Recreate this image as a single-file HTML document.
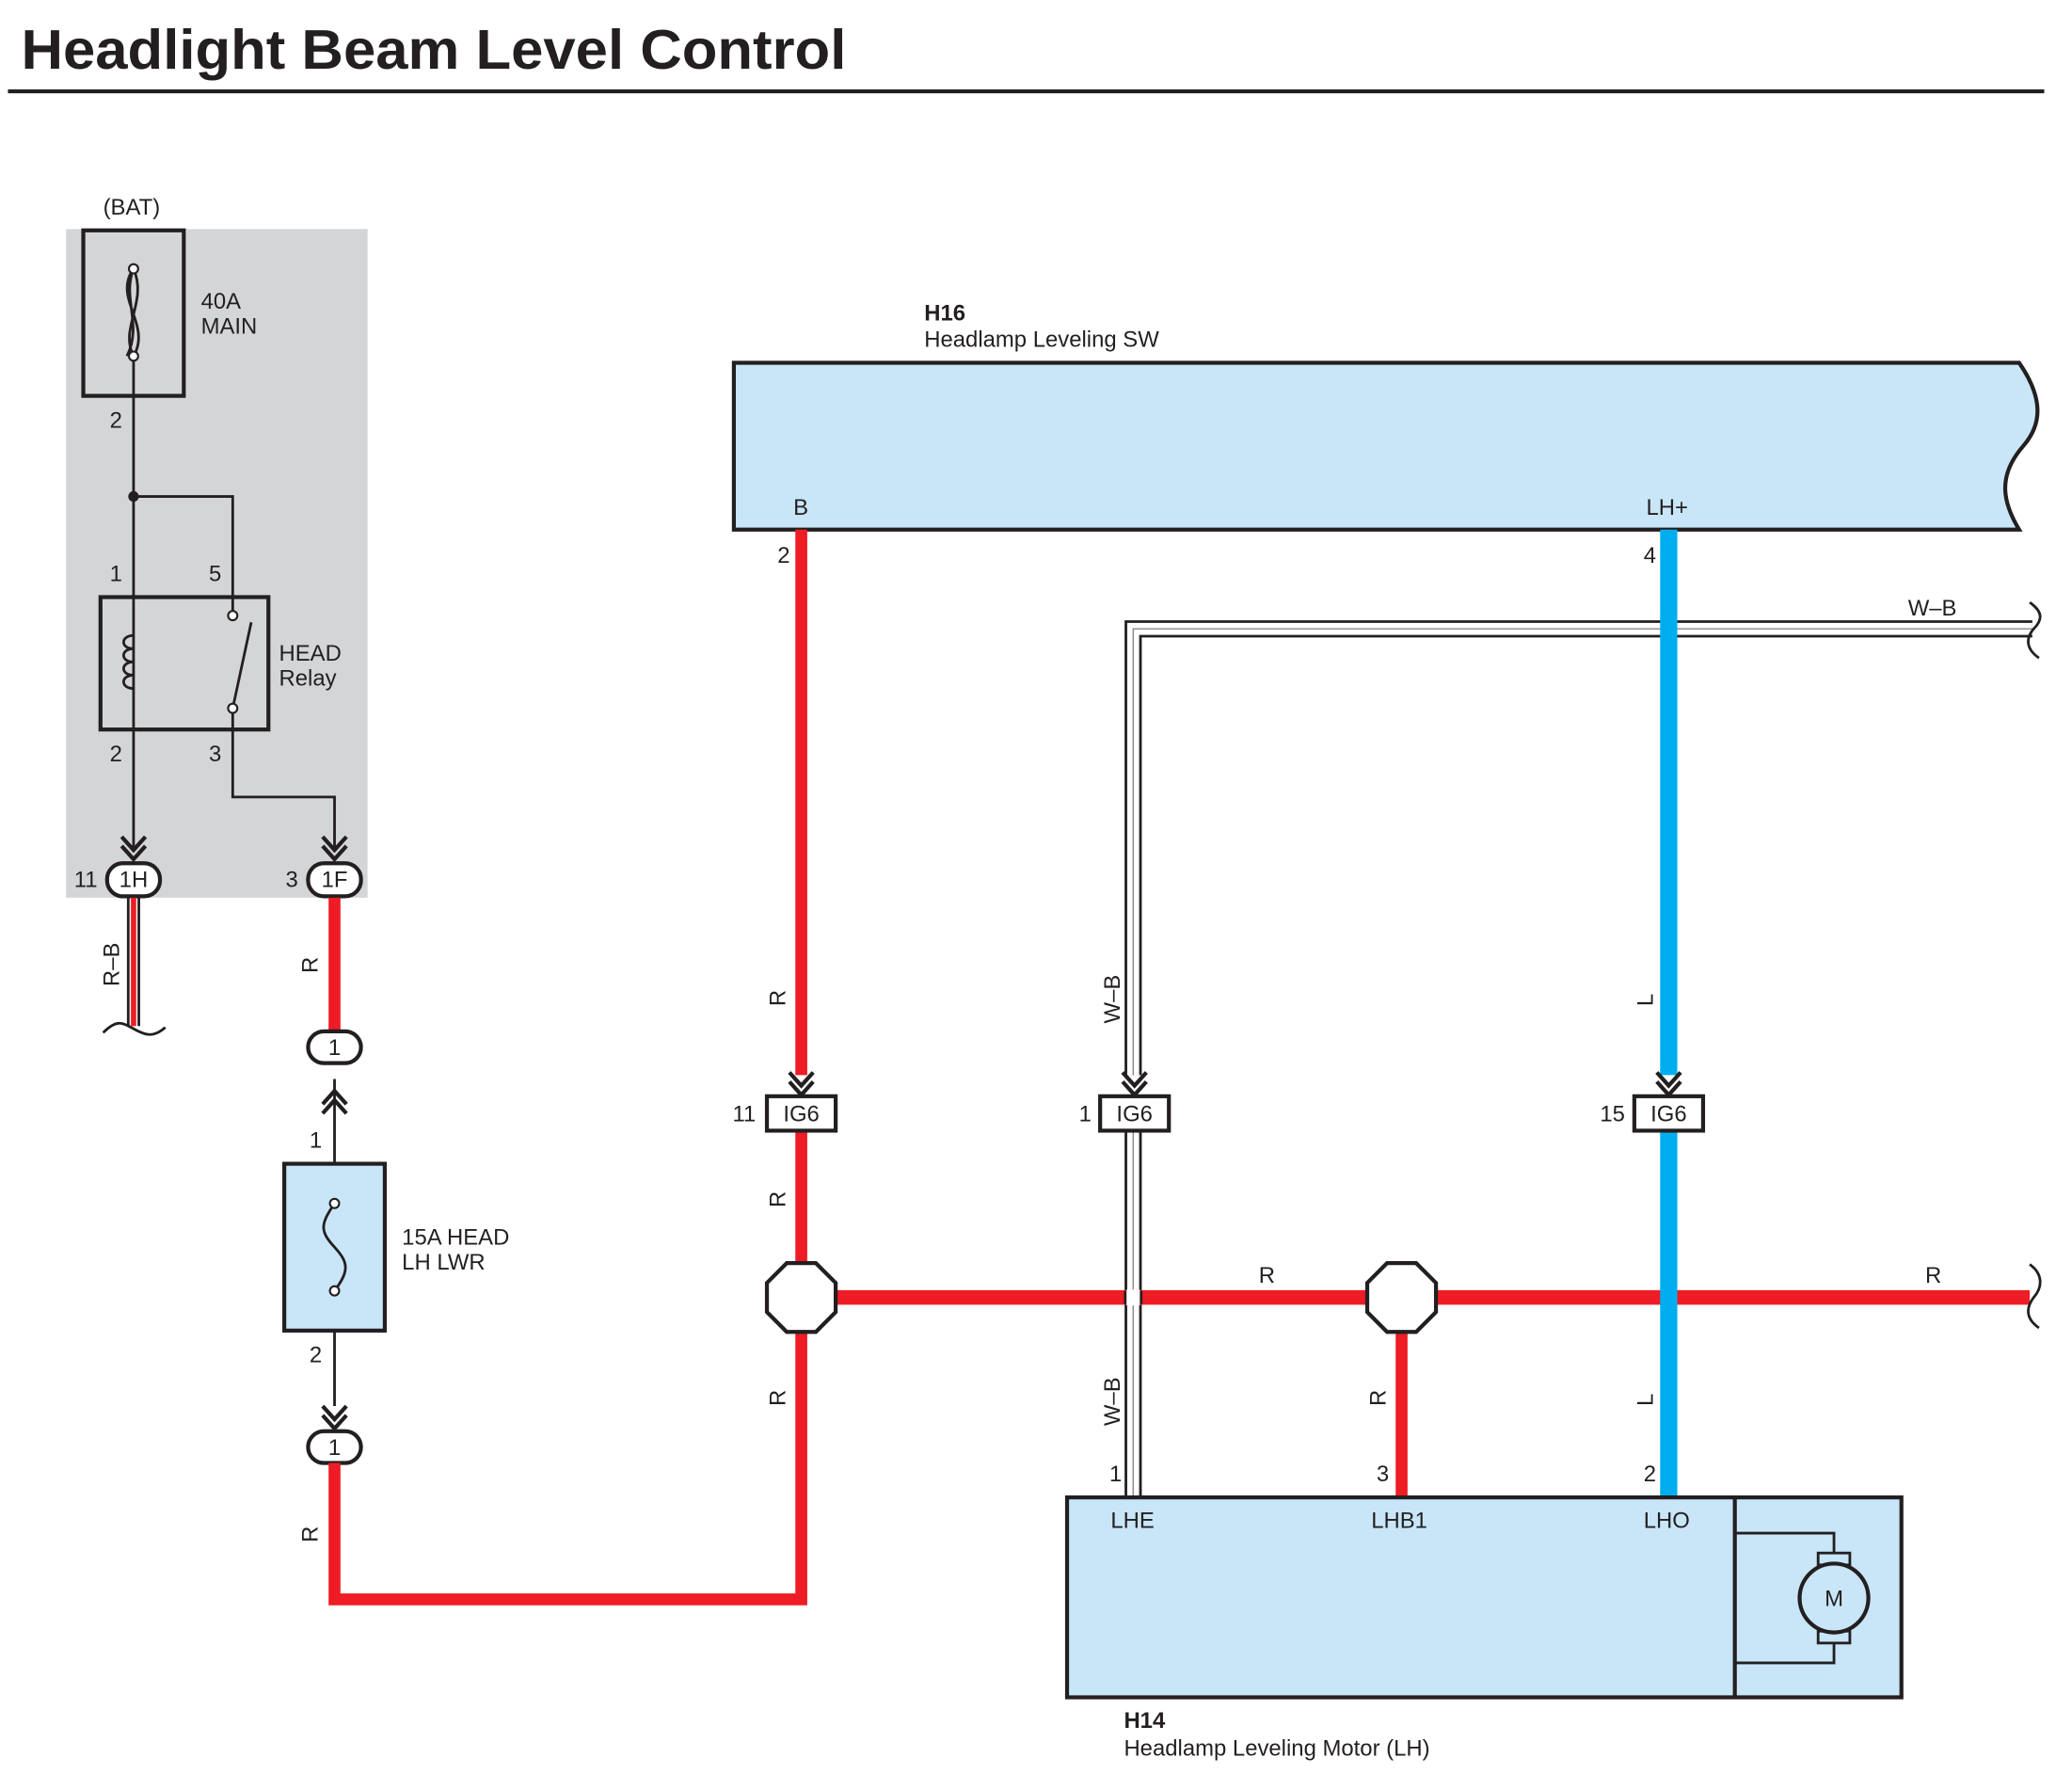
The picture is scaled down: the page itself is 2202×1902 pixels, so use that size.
<!DOCTYPE html>
<html><head><meta charset="utf-8"><style>
html,body{margin:0;padding:0;background:#fff}
svg{display:block}
text{font-family:"Liberation Sans",sans-serif;font-size:17px;fill:#231f20}
</style></head><body>
<svg width="2202" height="1902" viewBox="0 0 1567 1352" preserveAspectRatio="none" xmlns="http://www.w3.org/2000/svg">
<defs>
<g id="chev"><polyline points="-9,-14 0,-4 9,-14" fill="none" stroke="#231f20" stroke-width="3"/><polyline points="-9,-7 0,3 9,-7" fill="none" stroke="#231f20" stroke-width="3"/></g>
</defs>
<text x="16" y="52" style="font-size:42px;font-weight:bold" textLength="624" lengthAdjust="spacingAndGlyphs">Headlight Beam Level Control</text>
<line x1="6" y1="69" x2="1546" y2="69" stroke="#231f20" stroke-width="3"/>

<rect x="50" y="173" width="228" height="505" fill="#d4d5d7"/>
<text x="78" y="162">(BAT)</text>
<rect x="63" y="174" width="76" height="125" fill="none" stroke="#231f20" stroke-width="3"/>
<path d="M101,203 C85,225 115,245 101,269 M101,203 C92,225 108,245 96,269 M101,203 C112,228 90,248 101,269" fill="none" stroke="#231f20" stroke-width="2"/>
<circle cx="101" cy="203" r="3.5" fill="#fff" stroke="#231f20" stroke-width="1.5"/>
<circle cx="101" cy="269" r="3.5" fill="#fff" stroke="#231f20" stroke-width="1.5"/>
<text x="152" y="233">40A</text><text x="152" y="252">MAIN</text>
<text x="83" y="323">2</text>
<line x1="101" y1="272" x2="101" y2="640" stroke="#231f20" stroke-width="2"/>
<circle cx="101" cy="375" r="4" fill="#231f20"/>
<polyline points="101,375 176,375 176,462" fill="none" stroke="#231f20" stroke-width="2"/>
<rect x="76" y="451" width="127" height="100" fill="none" stroke="#231f20" stroke-width="3"/>
<path d="M101,480 c-10,0 -10,10 0,10 c-10,0 -10,10 0,10 c-10,0 -10,10 0,10 c-10,0 -10,10 0,10" fill="none" stroke="#231f20" stroke-width="2"/>
<line x1="176" y1="535" x2="190" y2="470" stroke="#231f20" stroke-width="2"/>
<circle cx="176" cy="465" r="3.5" fill="#fff" stroke="#231f20" stroke-width="1.5"/>
<circle cx="176" cy="535" r="3.5" fill="#fff" stroke="#231f20" stroke-width="1.5"/>
<text x="83" y="439">1</text><text x="158" y="439">5</text>
<text x="211" y="499">HEAD</text><text x="211" y="518">Relay</text>
<text x="83" y="575">2</text><text x="158" y="575">3</text>
<polyline points="176,538 176,602 253,602 253,640" fill="none" stroke="#231f20" stroke-width="2"/>
<use href="#chev" x="101" y="646"/><use href="#chev" x="253" y="646"/>
<rect x="81" y="652" width="40" height="25" rx="12" fill="#fff" stroke="#231f20" stroke-width="3"/>
<text x="101" y="670" text-anchor="middle">1H</text>
<rect x="233" y="652" width="40" height="25" rx="12" fill="#fff" stroke="#231f20" stroke-width="3"/>
<text x="253" y="670" text-anchor="middle">1F</text>
<text x="56" y="670">11</text><text x="216" y="670">3</text>

<line x1="97" y1="678" x2="97" y2="775" stroke="#231f20" stroke-width="2"/>
<line x1="101" y1="678" x2="101" y2="775" stroke="#ee1c25" stroke-width="4"/>
<line x1="105" y1="678" x2="105" y2="775" stroke="#231f20" stroke-width="2"/>
<path d="M78,780 C88,770 92,772 101,777 C110,782 116,784 125,776" fill="none" stroke="#231f20" stroke-width="2"/>
<text transform="translate(90,745) rotate(-90)">R–B</text>

<line x1="253" y1="678" x2="253" y2="780" stroke="#ee1c25" stroke-width="9"/>
<text transform="translate(240,735) rotate(-90)">R</text>
<rect x="233" y="779" width="40" height="24" rx="12" fill="#fff" stroke="#231f20" stroke-width="3"/>
<text x="253" y="797" text-anchor="middle">1</text>
<use href="#chev" x="253" y="809" transform="rotate(180 253 818)"/>
<line x1="253" y1="815" x2="253" y2="1062" stroke="#231f20" stroke-width="2"/>
<rect x="215" y="879" width="76" height="126" fill="#c8e6f8" stroke="#231f20" stroke-width="3"/>
<path d="M253,909 C242,925 242,930 253,942 C264,954 264,960 253,975" fill="none" stroke="#231f20" stroke-width="2"/>
<circle cx="253" cy="909" r="3.5" fill="#fff" stroke="#231f20" stroke-width="1.5"/>
<circle cx="253" cy="975" r="3.5" fill="#fff" stroke="#231f20" stroke-width="1.5"/>
<text x="234" y="867">1</text><text x="234" y="1029">2</text>
<text x="304" y="940">15A HEAD</text><text x="304" y="959">LH LWR</text>
<use href="#chev" x="253" y="1076"/>
<rect x="233" y="1081" width="40" height="24" rx="12" fill="#fff" stroke="#231f20" stroke-width="3"/>
<text x="253" y="1099" text-anchor="middle">1</text>
<polyline points="253,1105 253,1208 606,1208 606,1005" fill="none" stroke="#ee1c25" stroke-width="9"/>
<text transform="translate(240,1165) rotate(-90)">R</text>

<text x="699" y="242" style="font-weight:bold">H16</text>
<text x="699" y="262">Headlamp Leveling SW</text>
<path d="M555,274 H1527 C1545,300 1545,320 1530,337 C1510,360 1515,380 1527,400 H555 Z" fill="#c8e6f8" stroke="#231f20" stroke-width="3"/>
<text x="600" y="389">B</text><text x="588" y="425">2</text>
<text x="1245" y="389">LH+</text><text x="1243" y="425">4</text>

<path d="M1537,475 H857 V812" fill="none" stroke="#231f20" stroke-width="13"/>
<path d="M1537,475 H857 V812" fill="none" stroke="#fff" stroke-width="9"/>
<path d="M1537,475 H857 V812" fill="none" stroke="#888" stroke-width="1"/>
<path d="M857,854 V1131" fill="none" stroke="#231f20" stroke-width="13"/>
<path d="M857,854 V1131" fill="none" stroke="#fff" stroke-width="9"/>
<path d="M857,854 V1131" fill="none" stroke="#888" stroke-width="1"/>
<path d="M1535,455 C1545,462 1545,468 1538,475 C1532,482 1532,490 1542,497" fill="none" stroke="#231f20" stroke-width="2"/>
<text x="1443" y="465">W–B</text>
<text transform="translate(847,773) rotate(-90)">W–B</text>
<text transform="translate(847,1077) rotate(-90)">W–B</text>

<line x1="606" y1="400" x2="606" y2="812" stroke="#ee1c25" stroke-width="9"/>
<line x1="606" y1="854" x2="606" y2="960" stroke="#ee1c25" stroke-width="9"/>
<line x1="620" y1="980" x2="1535" y2="980" stroke="#ee1c25" stroke-width="11"/>
<line x1="1060" y1="990" x2="1060" y2="1131" stroke="#ee1c25" stroke-width="9"/>
<text transform="translate(594,760) rotate(-90)">R</text>
<text transform="translate(594,912) rotate(-90)">R</text>
<text transform="translate(594,1062) rotate(-90)">R</text>
<text transform="translate(1048,1062) rotate(-90)">R</text>
<text x="952" y="969">R</text><text x="1456" y="969">R</text>
<path d="M1535,955 C1545,962 1545,972 1538,980 C1532,988 1532,996 1542,1003" fill="none" stroke="#231f20" stroke-width="2"/>

<line x1="1262" y1="400" x2="1262" y2="812" stroke="#00aeef" stroke-width="13"/>
<line x1="1262" y1="854" x2="1262" y2="1131" stroke="#00aeef" stroke-width="13"/>
<text transform="translate(1250,760) rotate(-90)">L</text>
<text transform="translate(1250,1062) rotate(-90)">L</text>

<line x1="851" y1="975" x2="851" y2="985" stroke="#231f20" stroke-width="2"/>
<line x1="863" y1="975" x2="863" y2="985" stroke="#231f20" stroke-width="2"/>
<rect x="852" y="974" width="10" height="12" fill="#fff"/>

<polygon points="595,954 617,954 632,969 632,991 617,1006 595,1006 580,991 580,969" fill="#fff" stroke="#231f20" stroke-width="3"/>
<polygon points="1049,954 1071,954 1086,969 1086,991 1071,1006 1049,1006 1034,991 1034,969" fill="#fff" stroke="#231f20" stroke-width="3"/>

<use href="#chev" x="606" y="824"/><use href="#chev" x="858" y="824"/><use href="#chev" x="1262" y="824"/>
<rect x="580" y="828" width="52" height="26" fill="#fff" stroke="#231f20" stroke-width="3"/>
<text x="606" y="847" text-anchor="middle">IG6</text><text x="554" y="847">11</text>
<rect x="832" y="828" width="52" height="26" fill="#fff" stroke="#231f20" stroke-width="3"/>
<text x="858" y="847" text-anchor="middle">IG6</text><text x="816" y="847">1</text>
<rect x="1236" y="828" width="52" height="26" fill="#fff" stroke="#231f20" stroke-width="3"/>
<text x="1262" y="847" text-anchor="middle">IG6</text><text x="1210" y="847">15</text>

<rect x="807" y="1131" width="631" height="151" fill="#c8e6f8" stroke="#231f20" stroke-width="3"/>
<line x1="1312" y1="1131" x2="1312" y2="1282" stroke="#231f20" stroke-width="3"/>
<text x="840" y="1154">LHE</text><text x="1037" y="1154">LHB1</text><text x="1243" y="1154">LHO</text>
<text x="839" y="1119">1</text><text x="1041" y="1119">3</text><text x="1243" y="1119">2</text>
<polyline points="1312,1158 1387,1158 1387,1175" fill="none" stroke="#231f20" stroke-width="2"/>
<polyline points="1312,1256 1387,1256 1387,1239" fill="none" stroke="#231f20" stroke-width="2"/>
<rect x="1375" y="1173" width="24" height="9" fill="#c8e6f8" stroke="#231f20" stroke-width="2"/>
<rect x="1375" y="1232" width="24" height="9" fill="#c8e6f8" stroke="#231f20" stroke-width="2"/>
<circle cx="1387" cy="1207" r="26" fill="#c8e6f8" stroke="#231f20" stroke-width="3"/>
<text x="1387" y="1213" text-anchor="middle">M</text>
<text x="850" y="1305" style="font-weight:bold">H14</text>
<text x="850" y="1326">Headlamp Leveling Motor (LH)</text>
</svg>
</body></html>
